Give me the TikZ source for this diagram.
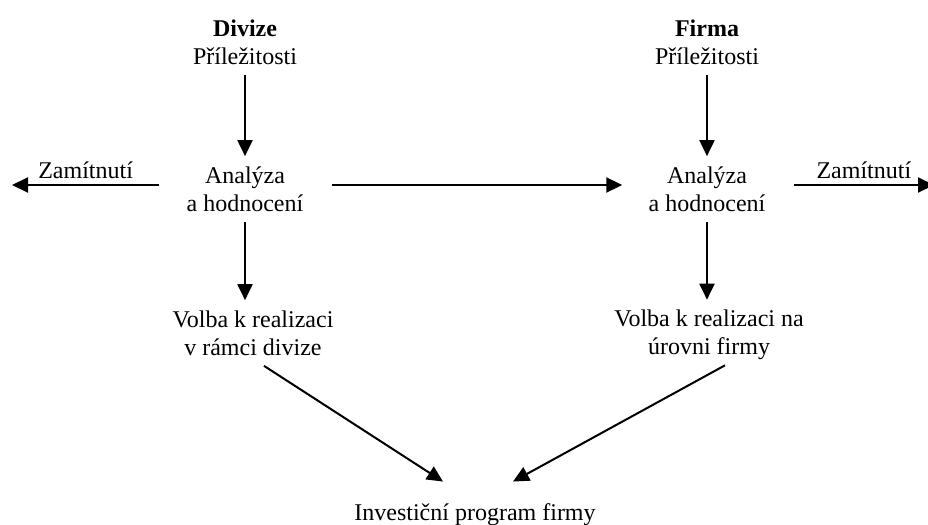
\documentclass[tikz,border=0pt]{standalone}
\usepackage{fontspec}
\setmainfont{Liberation Serif}
\usetikzlibrary{arrows.meta}

\begin{document}
\begin{tikzpicture}[x=0.5pt,y=-0.5pt,font=\fontsize{12}{14}\selectfont,
	txt/.style={align=center, inner sep=5pt},
	arr/.style={-{Triangle[length=8pt,width=7.5pt]}, line width=1pt},
	lbl/.style={above, inner sep=2.5pt}]
		\useasboundingbox (0,0) rectangle (928,525);

		\node[txt] (dp) at (245,42) {\textbf{Divize}\\Příležitosti};
		\node[txt] (fp) at (707,42) {\textbf{Firma}\\Příležitosti};

		\node[txt] (da) at (245,189) {Analýza\\a hodnocení};
		\node[txt] (fa) at (707,189) {Analýza\\a hodnocení};

		\node[txt] (dv) at (253,333) {Volba k realizaci\\v rámci divize};
		\node[txt] (fv) at (709,335) {Volba k realizaci na\\úrovni firmy};

		\node[txt] (inv) at (475,515) {Investiční program firmy};

		\coordinate (le) at (12,185);
		\coordinate (re) at (934,185);

		\draw[arr] (dp) -- (da);
		\draw[arr] (fp) -- (fa);
		\draw[arr] ([xshift=9pt,yshift=2pt]da.east) -- ([xshift=-8pt,yshift=2pt]fa.west);
		\draw[arr] ([xshift=-8.5pt,yshift=2pt]da.west) -- (le) node[lbl, midway] (zl) {Zamítnutí};
		\draw[arr] ([xshift=9pt,yshift=2pt]fa.east) -- (re) node[lbl, midway] (zr) {Zamítnutí};

		\draw[arr] (da) -- (da |- dv.north);
		\draw[arr] (fa) -- (fa |- fv.north);

		\draw[arr] ([xshift=5.5pt]dv.south) -- ([xshift=-16pt,yshift=6pt]inv.north);
		\draw[arr] ([xshift=8pt,yshift=2.5pt]fv.south) -- ([xshift=19pt,yshift=6pt]inv.north);

	\end{tikzpicture}
\end{document}
